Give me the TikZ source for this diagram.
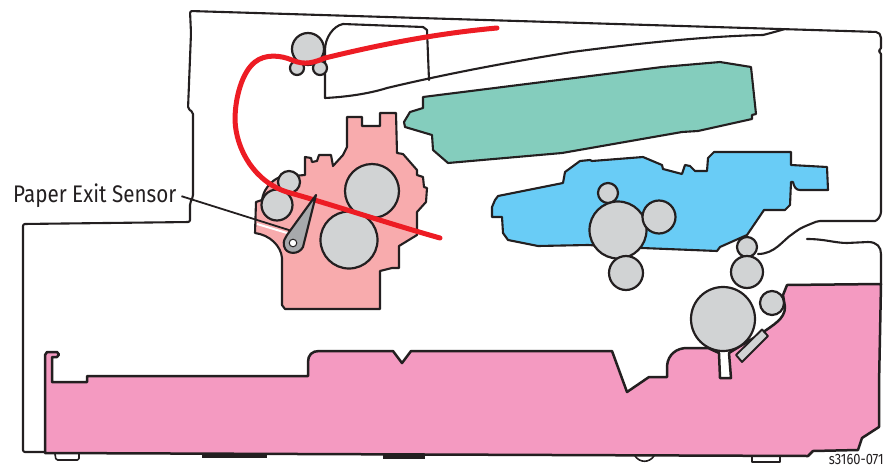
\documentclass[tikz,border=0pt]{standalone}
\usepackage{fontspec}
\newfontfamily\labelfont[FakeStretch=0.86]{Fira Sans}
\usetikzlibrary{positioning}
\definecolor{ink}{HTML}{231F20}
\definecolor{trayfill}{HTML}{F49AC1}
\definecolor{fuserfill}{HTML}{F8ABAD}
\definecolor{laserfill}{HTML}{84CDBD}
\definecolor{drumfill}{HTML}{69CCF6}
\definecolor{rollerfill}{HTML}{D1D3D4}
\definecolor{leverfill}{HTML}{A7A9AC}
\definecolor{paperred}{HTML}{ED1C24}
\tikzset{
  outline/.style={draw=ink,line width=2.1pt,line join=round,line cap=round},
  unit/.style={outline,line width=2.5pt},
  roller/.style={outline,line width=2.2pt,fill=rollerfill},
  pad/.style={fill=ink,draw=none},
  foot/.style={outline,line width=1.6pt,fill=white},
  paperpath/.style={draw=paperred,line width=5pt,line cap=round},
  leader/.style={draw=ink,line width=1.8pt}
}
\begin{document}
\begin{tikzpicture}[x=1pt,y=-1pt]
\useasboundingbox (0,0) rectangle (889,469);
% feet under the tray
\draw[foot,rounded corners=1.5pt] (55,454) -- (56,460) -- (79,460) -- (79,454);
\draw[foot] (635,456) .. controls (640,463) and (649,463) .. (654,456);
\draw[foot] (752,456) -- (752,462) -- (780,462) -- (780,456);
\fill[pad] (202,454) rectangle (267,457.5);
\fill[pad] (383,454) rectangle (425,458.5);
% tray
\draw[unit,fill=trayfill] (45,453) -- (45,355) -- (47,352) -- (57,352) -- (59,354.5) -- (57,357) -- (52,357) -- (52,382) -- (87,382) -- (87,376) -- (308,376) -- (308,362) .. controls (308,355) and (312,351) .. (319,351) -- (393,351) -- (402,363) -- (411,351) -- (612,351) -- (627,392) -- (649,377) -- (667,377) -- (667,366) .. controls (668,354) and (677,348) .. (687,348) -- (708,348) -- (719,353) -- (720,378) -- (731,378) -- (729,353) -- (742,345) -- (762,333) .. controls (773,325) and (785,319) .. (785,307) -- (783,295) -- (787,285) -- (881,284) -- (879,385) -- (879,427) -- (862,438) -- (858,450) -- (813,451) -- (808,456) -- cycle;
\draw[roller] (723,319) circle (32);
\draw[roller,line width=1.9pt] (736,355) -- (762,329.5) -- (768,336) -- (742,362) -- cycle;
% housing
\draw[outline,rounded corners=2pt] (44,452) -- (23,452) -- (23,224) -- (190,222) -- (190,203) -- (193,197) -- (193,112) -- (188,109) -- (191,33) -- (190,11) -- (878,32) -- (881,36) -- (881,50) -- (878,51) -- (881,52) -- (881,210) .. controls (881,216) and (877,221) .. (873,221) -- (818,221) .. controls (808,225) and (800,228) .. (794,233) .. controls (783,240) and (775,254) .. (758,254);
\draw[outline] (807,239) .. controls (825,239) and (835,243) .. (847,243) -- (868,242) .. controls (877,242) and (881,247) .. (881,254) -- (881,284);
% exit chute
\draw[outline] (429,80) -- (427,30) -- (423,27) -- (343,24) .. controls (333,26) and (325,38) .. (325,50) -- (325,98) .. controls (345,97) and (368,94) .. (387,88) .. controls (450,73) and (510,62) .. (572,52) .. controls (640,43) and (710,36) .. (763,35) .. controls (771,33) and (778,31) .. (785,29);
% laser unit
\draw[outline,fill=laserfill] (423,97) -- (423,108) -- (410,112) -- (404,122) -- (405,127) -- (432,135) -- (433,150) -- (448,163) -- (562,153) -- (682,132) -- (698,131) -- (752,119) -- (752,115) -- (756,114) -- (751,67) -- (720,62) -- (662,67) -- cycle;
% drum unit
\draw[outline,fill=drumfill] (498,196) -- (495,200) -- (492,207) -- (492,217) -- (502,217) -- (503,233) -- (508,240) -- (538,246) -- (588,245) -- (642,248) -- (717,251) -- (720,247) -- (747,235) -- (764,210) -- (785,210) -- (790,205) -- (791,182) -- (793,182) .. controls (794,187) and (796,190) .. (800,190) -- (828,190) -- (827,167) -- (791,165) -- (791,152) -- (714,152) -- (708,158) -- (707,171) -- (695,171) -- (690,166) -- (685,165) -- (682,174) -- (663,169) -- (662,165) -- (643,157) -- (592,161) -- (590,160) -- (580,161) -- (565,172) -- (563,183) -- cycle;
% fuser
\draw[outline,fill=fuserfill] (347,117) -- (362,117) -- (362,126) -- (380,126) -- (380,113) -- (396,113) -- (397,153) -- (403,154) -- (417,170) -- (417,175) -- (423,177) -- (424,187) -- (427,188) -- (426,202) -- (417,212) -- (417,235) -- (399,246) -- (399,268) -- (392,268) -- (380,271) -- (380,309) -- (285,309) -- (282,305) -- (282,258) .. controls (281,246) and (270,235) .. (255,233) -- (256,202) -- (262,200) .. controls (263,191) and (270,181) .. (280,177) -- (305,175) -- (305,157) -- (311,158) -- (312,162) -- (317,161) -- (319,155) -- (331,155) -- (333,166) -- (343,155) -- (347,147) -- cycle;
% rollers
\foreach \x/\y/\r in {308/49/16,297/68/7,320/68/7,372/191/27,349/240/28.5,277/205/15.5,289/182/11,
  608/193/10,618/230/28.5,659/217/16.5,626/273/17,747/247/10,747/272/16,772/303/12}
  \draw[roller] (\x,\y) circle (\r);
% paper
\draw[paperpath] (497,28) .. controls (430,34) and (370,47) .. (325,58) .. controls (315,62) and (305,66) .. (292,60) .. controls (280,55) and (265,54) .. (255,62) .. controls (242,72) and (235,98) .. (235,120) .. controls (236,150) and (255,182) .. (287,192) .. controls (330,204) and (390,224) .. (440,238);
% lever
\coordinate (levertip) at (316,195);
\coordinate (leverpin) at (293,243);
\coordinate (leverend) at (292,231);
\node[font=\labelfont\fontsize{24}{24}\selectfont,text=ink,inner sep=0pt,anchor=base west] (sensorlabel) at (13,202) {Paper Exit Sensor};
\draw[white,line width=2pt] (257,224) -- (292,234.5);
\draw[leader] (sensorlabel.east) ++(5,1) -- (leverend);
\draw[outline,fill=leverfill] (levertip) -- (303,247) .. controls (299,255) and (286,255) .. (284,246) .. controls (283,241) and (285,238) .. (287,235) -- cycle;
\fill[white,draw=ink,line width=1pt] (leverpin) circle (3.8);
\node[font=\labelfont\fontsize{15}{15}\selectfont,text=ink,inner sep=0pt,anchor=base east] (partno) at (884,464.5) {s3160-071};
\end{tikzpicture}
\end{document}
